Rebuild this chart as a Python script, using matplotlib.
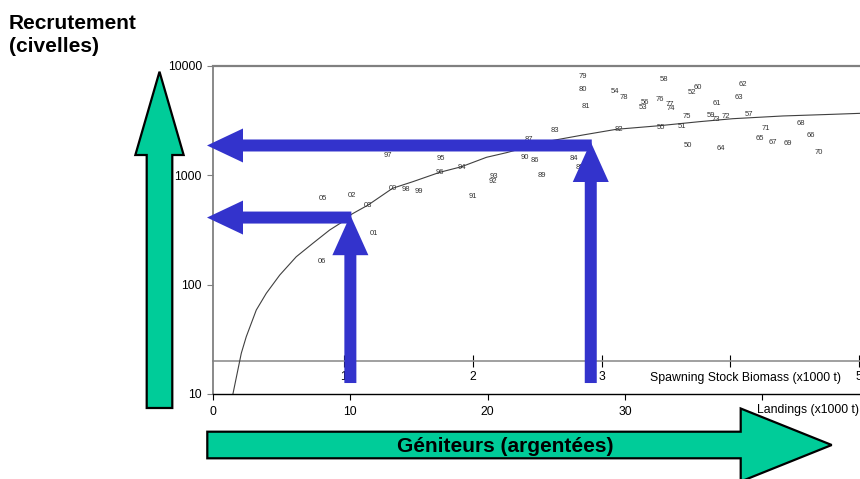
import numpy as np
import matplotlib
matplotlib.use('Agg')
import matplotlib.pyplot as plt
from matplotlib.patches import FancyArrow
from matplotlib.transforms import IdentityTransform
from matplotlib.ticker import FixedLocator, NullLocator

plt.rcParams['font.family'] = ['Liberation Sans', 'DejaVu Sans']

# year labels, landings (x1000 t) and recruitment
years = ['79', '80', '81', '54', '78', '56', '53', '76', '77', '74', '58', '52', '60', '62',
         '63', '61', '75', '59', '73', '72', '57', '83', '82', '55', '51', '71', '68', '66',
         '65', '67', '69', '70', '50', '64', '87', '90', '86', '84', '85', '97', '95', '94',
         '96', '00', '98', '99', '05', '02', '03', '91', '93', '92', '89', '01', '06']
landings = [26.89, 26.89, 27.13, 29.24, 29.89, 31.44, 31.29, 32.51, 33.24, 33.31, 32.80,
            34.86, 35.32, 38.55, 38.28, 36.68, 34.52, 36.22, 36.63, 37.36, 39.05, 24.92,
            29.53, 32.63, 34.11, 40.22, 42.76, 43.54, 39.80, 40.75, 41.82, 44.09, 34.57,
            36.97, 23.03, 22.73, 23.40, 26.27, 26.69, 12.75, 16.56, 18.09, 16.51, 13.07,
            14.04, 14.98, 8.02, 10.09, 11.29, 18.89, 20.44, 20.39, 23.95, 11.71, 7.93]
recruit = [7980, 6035, 4246, 5822, 5129, 4656, 4155, 4958, 4490, 4067, 7555, 5700, 6385,
           6807, 5175, 4560, 3437, 3540, 3258, 3437, 3589, 2545, 2636, 2767, 2785, 2655,
           2991, 2290, 2150, 1990, 1935, 1625, 1894, 1742, 2137, 1462, 1381, 1432, 1185,
           1503, 1432, 1175, 1066, 761, 735, 709, 608, 650, 535, 638, 972, 875, 1000,
           295, 164]

# stock-recruitment curve
curve_x = [1.45, 2.06, 2.42, 3.15, 3.88, 4.86, 6.06, 7.27, 8.49, 9.45, 10.09, 11.29,
           13.07, 14.55, 16.51, 18.09, 19.91, 21.36, 24.51, 26.93, 29.36, 32.51, 35.42,
           37.84, 41.48, 45.11, 47.1]
curve_y = [10, 23.6, 33.4, 58.6, 83.4, 122.5, 180, 239, 316, 377, 441, 535, 761, 875,
           1066, 1199, 1462, 1611, 2061, 2339, 2636, 2845, 3097, 3296, 3491, 3615, 3690]

y_ticks = [10, 100, 1000, 10000]
x_ticks = [0, 10, 20, 30, 40]
ssb_ticks = [1, 2, 3, 4, 5]

# read-off arrows: landings position, tip of vertical arrow, level of horizontal arrow
arrow_landings = [10.0, 27.5]
arrow_tips = [432, 2018]
arrow_levels = [411, 1875]
arrow_base = 12.6

blue = '#3333cc'
green = '#00cc99'

W, H = 860, 479
fig = plt.figure(figsize=(W / 100, H / 100), dpi=100)
ax = fig.add_axes([213 / W, 85 / H, 647 / W, 328 / H])
ax.set_yscale('log')
ax.set_xlim(0, 47.1)
ax.set_ylim(10, 10000)

ax.plot(curve_x, curve_y, color='#404040', lw=0.8)
for yr, lx, r in zip(years, landings, recruit):
    ax.text(lx, r, yr, fontsize=5.5, color='#333333', ha='center', va='center')

ax.yaxis.set_major_locator(FixedLocator(y_ticks))
ax.yaxis.set_minor_locator(NullLocator())
ax.set_yticklabels([str(t) for t in y_ticks])
ax.set_xticks(x_ticks)
ax.set_xticklabels([str(t) for t in x_ticks])
ax.tick_params(axis='y', length=4, color='#808080', labelsize=8.7, pad=4)
ax.tick_params(axis='x', length=4, color='black', labelsize=8.7, pad=4.5)
ax.spines['right'].set_visible(False)
ax.spines['top'].set_color('#808080')
ax.spines['top'].set_linewidth(1.6)
ax.spines['left'].set_color('#808080')
ax.spines['left'].set_linewidth(1.3)
ax.spines['bottom'].set_color('black')
ax.spines['bottom'].set_linewidth(1.0)


# spawning stock biomass scale drawn inside the plot
def to_ssb(x):
    return (np.asarray(x) - 0.15) / 9.38


def to_landings(s):
    return np.asarray(s) * 9.38 + 0.15


sec = ax.secondary_xaxis(33 / 328, functions=(to_ssb, to_landings))
sec.set_xticks(ssb_ticks)
sec.set_xticklabels([str(t) for t in ssb_ticks])
sec.tick_params(direction='inout', length=8, width=0.8, labelsize=8.7, pad=3)
sec.spines['bottom'].set_color('#909090')
sec.spines['bottom'].set_linewidth(1.2)

ax.text((650 - 213) / 647, 16 / 328, 'Spawning Stock Biomass (x1000 t)', transform=ax.transAxes,
        fontsize=8.8, ha='left', va='center', zorder=5,
        bbox=dict(fc='white', ec='none', pad=1))
ax.text(0.999, -16 / 328, 'Landings (x1000 t)', transform=ax.transAxes, fontsize=8.8,
        ha='right', va='center', zorder=5, clip_on=False,
        bbox=dict(fc='white', ec='none', pad=1))

# blue read-off arrows
x_axis_left = ax.transAxes.transform((0, 0))[0] - 6
for lx, tip, lvl in zip(arrow_landings, arrow_tips, arrow_levels):
    x0, yb = ax.transData.transform((lx, arrow_base))
    _, yt = ax.transData.transform((lx, tip))
    _, yl = ax.transData.transform((lx, lvl))
    fig.add_artist(FancyArrow(x0 + 1, yl, x_axis_left - x0 - 1, 0, width=12, head_width=34,
                              head_length=36, length_includes_head=True, color=blue, lw=0,
                              transform=IdentityTransform()))
    fig.add_artist(FancyArrow(x0, yb, 0, yt - yb, width=12, head_width=36, head_length=40,
                              length_includes_head=True, color=blue, lw=0,
                              transform=IdentityTransform()))

# green axis arrows
fig.add_artist(FancyArrow(159.5, H - 408, 0, 408 - 71.7, width=25.6, head_width=48.3,
                          head_length=83.3, length_includes_head=True, fc=green, ec='black',
                          lw=1.6, transform=IdentityTransform()))
fig.add_artist(FancyArrow(207.3, H - 445, 831.7 - 207.3, 0, width=26.6, head_width=73,
                          head_length=91, length_includes_head=True, fc=green, ec='black',
                          lw=1.6, transform=IdentityTransform()))

fig.text(505 / W, 1 - 447 / H, 'Géniteurs (argentées)', fontsize=15, fontweight='bold',
         ha='center', va='center')
fig.text(9 / W, 1 - 29.3 / H, 'Recrutement', fontsize=15, fontweight='bold',
         ha='left', va='baseline')
fig.text(9 / W, 1 - 52 / H, '(civelles)', fontsize=15, fontweight='bold',
         ha='left', va='baseline')

fig.savefig('out.png', dpi=100)
